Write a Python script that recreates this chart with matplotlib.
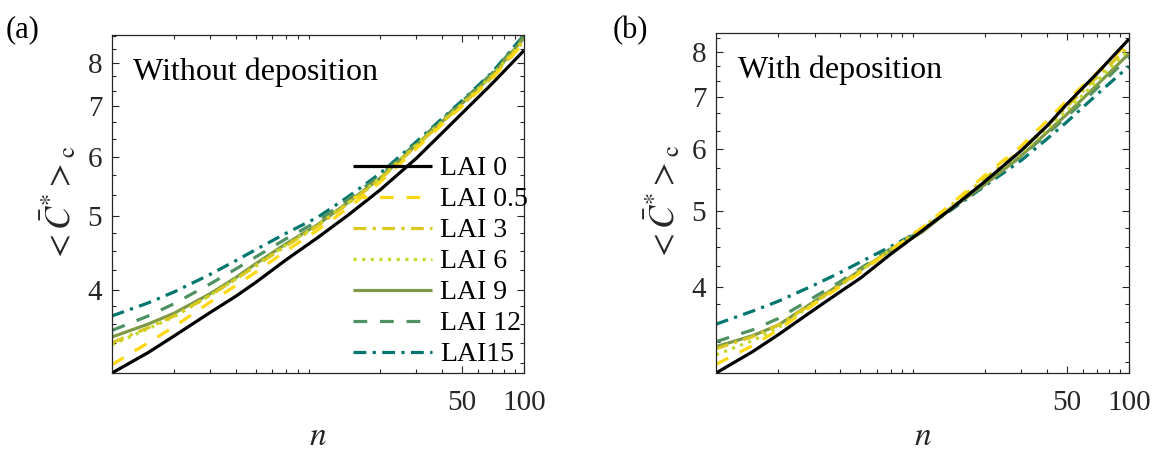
import matplotlib
matplotlib.use("Agg")
import matplotlib.pyplot as plt
from matplotlib.ticker import FixedLocator, NullFormatter, FixedFormatter

plt.rcParams['font.family'] = ['Liberation Serif', 'DejaVu Serif']
plt.rcParams['mathtext.fontset'] = 'stix'

# ---------------- data ----------------
n = [1, 1.5, 2, 3, 4, 5, 7, 10, 14, 20, 30, 40, 50, 70, 100]
labels = ['LAI 0', 'LAI 0.5', 'LAI 3', 'LAI 6', 'LAI 9', 'LAI 12', 'LAI15']

# (a) without deposition
a_lai0 = [3.10, 3.30, 3.47, 3.73, 3.92, 4.09, 4.38, 4.69, 5.02, 5.42, 5.97, 6.45, 6.85, 7.50, 8.30]
a_lai05 = [3.18, 3.40, 3.57, 3.85, 4.05, 4.22, 4.50, 4.80, 5.13, 5.55, 6.15, 6.62, 7.00, 7.62, 8.50]
a_lai3 = [3.40, 3.56, 3.69, 3.93, 4.13, 4.30, 4.57, 4.86, 5.20, 5.60, 6.20, 6.66, 7.03, 7.65, 8.55]
a_lai6 = [3.38, 3.55, 3.68, 3.93, 4.13, 4.31, 4.58, 4.87, 5.21, 5.62, 6.22, 6.68, 7.05, 7.68, 8.58]
a_lai9 = [3.46, 3.60, 3.72, 3.95, 4.15, 4.33, 4.60, 4.88, 5.22, 5.62, 6.22, 6.68, 7.06, 7.70, 8.62]
a_lai12 = [3.53, 3.69, 3.83, 4.07, 4.26, 4.42, 4.67, 4.93, 5.27, 5.66, 6.25, 6.72, 7.10, 7.74, 8.68]
a_lai15 = [3.69, 3.84, 3.97, 4.19, 4.37, 4.52, 4.75, 4.99, 5.31, 5.70, 6.28, 6.74, 7.12, 7.76, 8.70]

# (b) with deposition
b_lai0 = [3.10, 3.30, 3.47, 3.74, 3.94, 4.10, 4.40, 4.72, 5.05, 5.45, 5.97, 6.42, 6.85, 7.50, 8.30]
b_lai05 = [3.18, 3.36, 3.52, 3.80, 4.00, 4.17, 4.45, 4.76, 5.12, 5.55, 6.05, 6.52, 6.92, 7.52, 8.22]
b_lai3 = [3.33, 3.45, 3.57, 3.82, 4.02, 4.19, 4.46, 4.76, 5.10, 5.50, 5.98, 6.42, 6.80, 7.42, 8.12]
b_lai6 = [3.27, 3.41, 3.54, 3.81, 4.01, 4.19, 4.46, 4.74, 5.07, 5.46, 5.93, 6.36, 6.72, 7.33, 8.05]
b_lai9 = [3.35, 3.46, 3.57, 3.83, 4.03, 4.20, 4.45, 4.70, 5.05, 5.40, 5.88, 6.30, 6.65, 7.25, 7.95]
b_lai12 = [3.40, 3.52, 3.64, 3.88, 4.06, 4.22, 4.47, 4.73, 5.06, 5.42, 5.87, 6.27, 6.60, 7.18, 7.88]
b_lai15 = [3.58, 3.72, 3.83, 4.02, 4.17, 4.30, 4.50, 4.73, 5.03, 5.38, 5.80, 6.18, 6.50, 7.05, 7.66]

xticks = [50, 100]
xtick_labels = ['50', '100']
yticks = [4, 5, 6, 7, 8]
ytick_labels = ['4', '5', '6', '7', '8']

# ---------------- styles ----------------
colors = ['#000000', '#FFD814', '#D9C81E', '#C3D92E', '#7F9A47', '#4E9163', '#00766E']
lw = 2.3
dashes = [None, (4.3, 4.0), (4.0, 2.0, 1.0, 2.0), (1.0, 1.7), None, (4.3, 4.0), (4.0, 2.0, 1.0, 2.0)]

fig = plt.figure(figsize=(11.59, 4.53), dpi=100)
ax_a = fig.add_axes([0.0966, 0.1766, 0.3555, 0.746])
ax_b = fig.add_axes([0.6178, 0.1766, 0.3563, 0.7506])

axis_col = '#262626'
x_minor = [2, 3, 4, 5, 6, 7, 8, 9, 20, 30, 40, 60, 70, 80, 90]
y_minor = [3.2, 3.4, 3.6, 3.8, 4.25, 4.5, 4.75, 5.333, 5.667, 6.333, 6.667, 7.333, 7.667, 8.333, 8.667]


def style(ax, ylim):
    ax.set_xscale('log')
    ax.set_yscale('log')
    ax.set_xlim(1, 100)
    ax.set_ylim(*ylim)
    ax.xaxis.set_major_locator(FixedLocator(xticks))
    ax.xaxis.set_major_formatter(FixedFormatter(xtick_labels))
    ax.xaxis.set_minor_locator(FixedLocator(x_minor))
    ax.xaxis.set_minor_formatter(NullFormatter())
    ax.yaxis.set_major_locator(FixedLocator(yticks))
    ax.yaxis.set_major_formatter(FixedFormatter(ytick_labels))
    ax.yaxis.set_minor_locator(FixedLocator(y_minor))
    ax.yaxis.set_minor_formatter(NullFormatter())
    ax.tick_params(which='both', direction='in', top=True, right=True,
                   colors=axis_col, labelcolor=axis_col, width=0.8)
    ax.tick_params(which='major', length=5, labelsize=21)
    ax.tick_params(which='minor', length=3)
    ax.tick_params(axis='x', which='major', pad=12)
    ax.tick_params(axis='y', which='major', pad=7)
    for s in ax.spines.values():
        s.set_color(axis_col)
        s.set_linewidth(0.9)
    ax.set_xlabel(r'$n$', fontsize=24, labelpad=4, color=axis_col)
    ax.set_ylabel(r'$<\bar{C}^{*}>_{\mathrm{c}}$', fontsize=25, labelpad=6, color=axis_col)


series_a = [a_lai0, a_lai05, a_lai3, a_lai6, a_lai9, a_lai12, a_lai15]
series_b = [b_lai0, b_lai05, b_lai3, b_lai6, b_lai9, b_lai12, b_lai15]

handles = []
for ax, series in ((ax_a, series_a), (ax_b, series_b)):
    hs = []
    for i in range(len(series) - 1, -1, -1):
        ln, = ax.plot(n, series[i], color=colors[i], lw=lw, label=labels[i],
                      solid_capstyle='butt', dash_capstyle='butt')
        if dashes[i] is not None:
            ln.set_dashes(dashes[i])
        hs.append(ln)
    handles.append(hs[::-1])

style(ax_a, (3.1, 8.7))
style(ax_b, (3.1, 8.45))

ax_a.text(0.051, 0.867, 'Without deposition', transform=ax_a.transAxes,
          fontsize=23, va='baseline', ha='left')
ax_b.text(0.053, 0.868, 'With deposition', transform=ax_b.transAxes,
          fontsize=23, va='baseline', ha='left')

ax_a.legend(handles=handles[0], labels=labels, loc='upper left',
            bbox_to_anchor=(0.585, 0.642), frameon=False, fontsize=20,
            handlelength=2.85, handletextpad=0.3, labelspacing=0.2,
            borderpad=0, borderaxespad=0)

fig.text(23 / 1159, 1 - 30 / 453, '(a)', fontsize=22, ha='center', va='center')
fig.text(630 / 1159, 1 - 31 / 453, '(b)', fontsize=22, ha='center', va='center')

fig.savefig('out.png', dpi=100)
